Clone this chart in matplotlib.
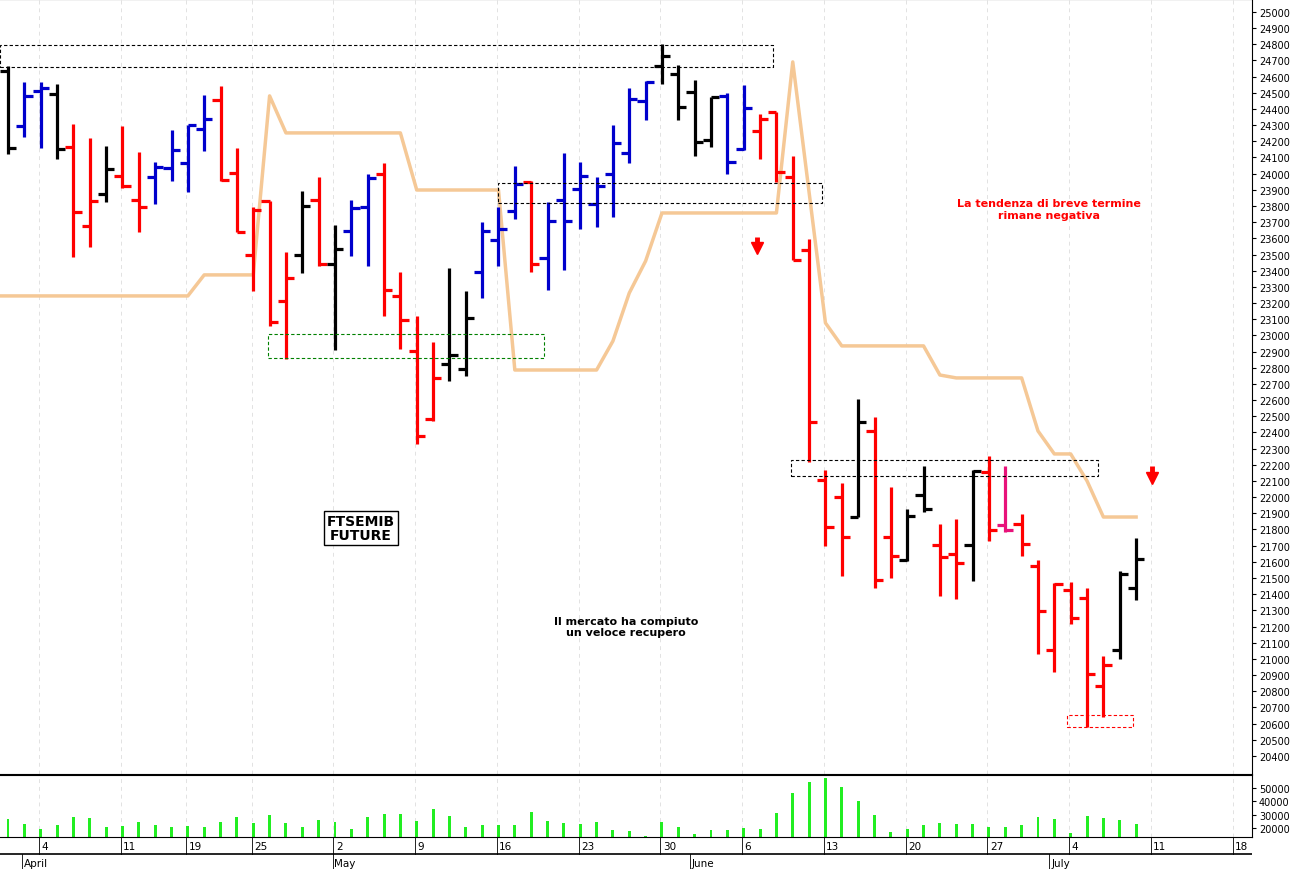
import matplotlib.pyplot as plt
from matplotlib.patches import Rectangle

# OHLC, one bar per trading day (idx 0 = 31 Mar 2022)
opens = [24635, 24295, 24511, 24493, 24165, 23677, 23875, 23986, 23837, 23980,
         24035, 24066, 24276, 24456, 24004, 23497, 23831, 23213, 23497, 23837,
         23442, 23646, 23794, 23998, 23244, 22904, 22483, 22823, 22792, 23392,
         23590, 23769, 23949, 23479, 23837, 23906, 23813, 23998, 24128, 24450,
         24666, 24617, 24505, 24208, 24481, 24153, 24264, 24382, 23980, 23528,
         22106, 22001, 21877, 22409, 21753, 21611, 22013, 21704, 21648, 21704,
         22155, 21828, 21834, 21574, 21055, 21426, 21376, 20832, 21055, 21438]
highs = [24666, 24567, 24567, 24555, 24307, 24221, 24171, 24295, 24134, 24072,
         24270, 24301, 24487, 24542, 24159, 23794, 23831, 23516, 23893, 23980,
         23683, 23837, 23998, 24066, 23392, 23120, 22959, 23417, 23275, 23701,
         23794, 24048, 23955, 23825, 24128, 24072, 23980, 24301, 24530, 24573,
         24802, 24672, 24579, 24474, 24499, 24549, 24369, 24382, 24110, 23596,
         22168, 22087, 22607, 22495, 22063, 21927, 22192, 21834, 21865, 22168,
         22254, 22192, 21896, 21611, 21469, 21475, 21438, 21018, 21543, 21747]
lows = [24122, 24227, 24159, 24091, 23485, 23547, 23825, 23912, 23640, 23813,
        23955, 23887, 24140, 23955, 23640, 23275, 23058, 22854, 23386, 23429,
        22910, 23491, 23429, 23120, 22916, 22328, 22471, 22718, 22749, 23231,
        23429, 23720, 23392, 23281, 23405, 23658, 23670, 23732, 24066, 24332,
        24555, 24332, 24110, 24165, 23998, 24147, 24091, 23949, 23466, 22217,
        21698, 21512, 21877, 21438, 21500, 21605, 21908, 21389, 21370, 21481,
        21729, 21784, 21636, 21030, 20919, 21215, 20578, 20640, 20999, 21364]
closes = [24159, 24481, 24530, 24153, 23763, 23831, 24029, 23924, 23794, 24041,
          24147, 24301, 24338, 23961, 23640, 23776, 23083, 23355, 23800, 23442,
          23534, 23788, 23973, 23281, 23095, 22378, 22737, 22879, 23108, 23646,
          23658, 23936, 23442, 23708, 23708, 23986, 23924, 24190, 24462, 24567,
          24728, 24413, 24196, 24474, 24072, 24406, 24338, 24011, 23466, 22465,
          21815, 21753, 22465, 21488, 21636, 21883, 21927, 21630, 21593, 22162,
          21797, 21797, 21710, 21296, 21463, 21253, 20906, 20962, 21525, 21617]
bar_colors = list("kbbkrrkrrbbbbrrrrrkrkbbrrrrkkbbbrbbbbbbbkkkkbbrrrr"
                  "rrkrrkkrrkrmrrrrrrkk")
volumes = [26700, 23050, 19400, 22560, 27950, 27200, 21090, 21580, 24280, 22560,
           21090, 21580, 21090, 24280, 27950, 23540, 29660, 23540, 21090, 26000,
           24280, 19620, 27950, 30400, 30890, 25010, 34070, 28690, 21090, 22560,
           22560, 22560, 32360, 25500, 23540, 23050, 24280, 18640, 17420, 13990,
           24280, 21090, 15450, 18150, 18150, 20110, 18890, 31630, 46330, 54410,
           57350, 50490, 40200, 29910, 16680, 18890, 22560, 23540, 23050, 23050,
           21090, 20600, 22560, 27950, 26730, 16440, 29180, 27220, 26000, 23050]

# trailing stop line (orange)
stop_idx = [-0.5, 11, 12, 15, 16, 17, 24, 25, 30, 31, 36, 37, 38, 39, 40, 47, 48,
            50, 51, 56, 57, 58, 62, 63, 64, 65, 66, 67, 69]
stop_val = [23244, 23244, 23374, 23374, 24481, 24252, 24252, 23899, 23899, 22786,
            22786, 22965, 23262, 23460, 23757, 23757, 24691, 23077, 22935, 22935,
            22755, 22737, 22737, 22409, 22267, 22267, 22100, 21877, 21877]

# dotted boxes: (x0, x1, low, high, colour)
boxes = [(-0.5, 46.8, 24660, 24796, 'black'),
         (30, 49.8, 23819, 23943, 'black'),
         (15.9, 32.8, 22860, 23009, 'green'),
         (47.9, 66.7, 22131, 22230, 'black'),
         (64.8, 68.8, 20578, 20653, 'red')]

week_idx = [2, 7, 11, 15, 20, 25, 30, 35, 40, 45, 50, 55, 60, 65, 70, 75]
week_lab = ['4', '11', '19', '25', '2', '9', '16', '23', '30', '6', '13', '20',
            '27', '4', '11', '18']
month_idx = [0.85, 19.85, 41.7, 63.7]
month_lab = ['April', 'May', 'June', 'July']

W = 1302
fig = plt.figure(figsize=(13.02, 8.7), dpi=100)
xr = 1252 / W
ax = fig.add_axes([0, 1 - 775 / 870, xr, 775 / 870])
axv = fig.add_axes([0, 32 / 870, xr, 62 / 870])
axd = fig.add_axes([0, 0, xr, 32 / 870])
xlim = (-0.49, 76.09)

for a in (ax, axv):
    a.set_xlim(*xlim)
    a.yaxis.tick_right()
    a.set_xticks([])
    a.spines['left'].set_visible(False)
    a.tick_params(axis='y', labelsize=7, length=3, pad=2)
    for w in week_idx:
        a.axvline(w - 0.1, color='#e2e2e2', lw=0.7, ls=(0, (4, 4)), zorder=0)

cmap = {'k': 'black', 'b': '#0000CC', 'r': '#FF0000', 'm': '#E8127A'}
for i in range(len(opens)):
    c = cmap[bar_colors[i]]
    ax.plot([i, i], [lows[i], highs[i]], color=c, lw=2.3, solid_capstyle='butt')
    ax.plot([i - 0.5, i], [opens[i], opens[i]], color=c, lw=2.3, solid_capstyle='butt')
    ax.plot([i, i + 0.5], [closes[i], closes[i]], color=c, lw=2.3, solid_capstyle='butt')

ax.plot(stop_idx, stop_val, color='#F5C896', lw=2.5, zorder=1)

for x0, x1, lo, hi, c in boxes:
    ax.add_patch(Rectangle((x0, lo), x1 - x0, hi - lo, fill=False, ec=c,
                           lw=0.8, ls=(0, (3, 2)), zorder=3))

for xi, top in [(45.8, 23610), (70, 22190)]:
    ax.plot([xi, xi], [top, top - 50], color='red', lw=3.5, solid_capstyle='butt')
    ax.plot(xi, top - 70, marker='v', color='red', ms=8, mec='red')

ax.set_ylim(20288, 25080)
ax.set_yticks(range(20400, 25001, 100))
ax.text(21.6, 21810, 'FTSEMIB\nFUTURE', ha='center', va='center', fontsize=10,
        fontweight='bold', linespacing=1.0,
        bbox=dict(boxstyle='square,pad=0.2', fc='white', ec='black', lw=1))
ax.text(37.8, 21200, 'Il mercato ha compiuto\nun veloce recupero', ha='center',
        va='center', fontsize=8, fontweight='bold', linespacing=1.2)
ax.text(63.7, 23780, 'La tendenza di breve termine\nrimane negativa', ha='center',
        va='center', fontsize=8, fontweight='bold', color='red', linespacing=1.2)

axv.bar(range(len(volumes)), volumes, width=0.18, color='#22EE22')
axv.set_ylim(13250, 59800)
axv.set_yticks([20000, 30000, 40000, 50000])

axd.set_xlim(*xlim)
axd.set_ylim(0, 32)
axd.axis('off')
axd.axhline(15, color='black', lw=1.2)
for w, lab in zip(week_idx, week_lab):
    axd.plot([w - 0.1, w - 0.1], [15, 32], color='black', lw=0.6)
    axd.text(w + 0.05, 23, lab, fontsize=7.5, va='center', ha='left')
for m, lab in zip(month_idx, month_lab):
    axd.plot([m, m], [0, 15], color='black', lw=0.6)
    axd.text(m + 0.1, 6, lab, fontsize=7.5, va='center', ha='left')

fig.savefig('out.png', dpi=100)
